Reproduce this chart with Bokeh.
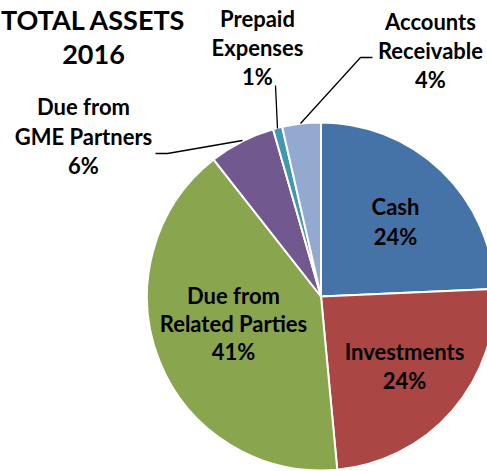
import math
from bokeh.plotting import figure
from bokeh.models import Range1d, ColumnDataSource
from bokeh.core.properties import value
from bokeh.embed import file_html
from bokeh.resources import INLINE

# ---- data ----
categories = ["Cash", "Investments", "Due from\nRelated Parties",
              "Due from\nGME Partners", "Prepaid\nExpenses", "Accounts\nReceivable"]
shares = [24.3, 24.2, 40.9, 6.14, 0.86, 3.58]          # slice sizes (share of total, %)
pct_labels = ["24%", "24%", "41%", "6%", "1%", "4%"]    # data labels as printed
colors = ["#4572A7", "#AA4643", "#89A54E", "#71588F", "#4198AF", "#93A9CF"]
title_lines = ["TOTAL ASSETS", "2016"]

# ---- layout ----
W, H = 487, 471
p = figure(width=W, height=H, x_range=Range1d(0, W), y_range=Range1d(0, H),
           output_backend="svg", toolbar_location=None, min_border=0)
p.axis.visible = False
p.grid.visible = False
p.outline_line_color = None
p.background_fill_color = "white"


def Y(img_y):
    return H - img_y


CX, CY, R = 320.5, Y(296), 174
TXT_SHIFT = -7

total = sum(shares)
cum = 0.0
starts, ends = [], []
for s in shares:
    starts.append(math.pi / 2 - 2 * math.pi * cum / total)
    cum += s
    ends.append(math.pi / 2 - 2 * math.pi * cum / total)

src = ColumnDataSource(dict(start=starts, end=ends, color=colors))
p.wedge(x=CX, y=CY, radius=R, start_angle="start", end_angle="end",
        direction="clock", fill_color="color", line_color="white",
        line_width=2, source=src)

FONT = value("Lato")

# label anchors: (center x, first baseline y in image px, line spacing)
anchors = [(395, 213, 30), (404, 358, 29), (233, 302, 28),
           (83, 113, 29.5), (257, 25, 29), (430, 28, 29)]

for i, cat in enumerate(categories):
    lines = cat.split("\n") + [pct_labels[i]]
    ax, ay, sp = anchors[i]
    for k, ln in enumerate(lines):
        p.text(x=[ax], y=[Y(ay + k * sp + TXT_SHIFT)], text=[ln], text_font=FONT,
               text_font_style="bold", text_font_size="22px",
               text_align="center", text_baseline="alphabetic",
               text_color="black")

# title
for k, ln in enumerate(title_lines):
    p.text(x=[93], y=[Y(26 + k * 34.5 + TXT_SHIFT)], text=[ln], text_font=FONT,
           text_font_style="bold", text_font_size="27px",
           text_align="center", text_baseline="alphabetic", text_color="black")

# leader lines
leaders = [
    ([155, 167, 242], [153, 153, 140]),   # GME Partners
    ([275, 277], [85, 128]),              # Prepaid
    ([372, 360, 300], [57, 57, 123]),     # Accounts Receivable
]
for xs, ys in leaders:
    p.line(x=xs, y=[Y(v) for v in ys], line_color="black", line_width=1.3)

open("out.html", "w").write(file_html(p, INLINE))
